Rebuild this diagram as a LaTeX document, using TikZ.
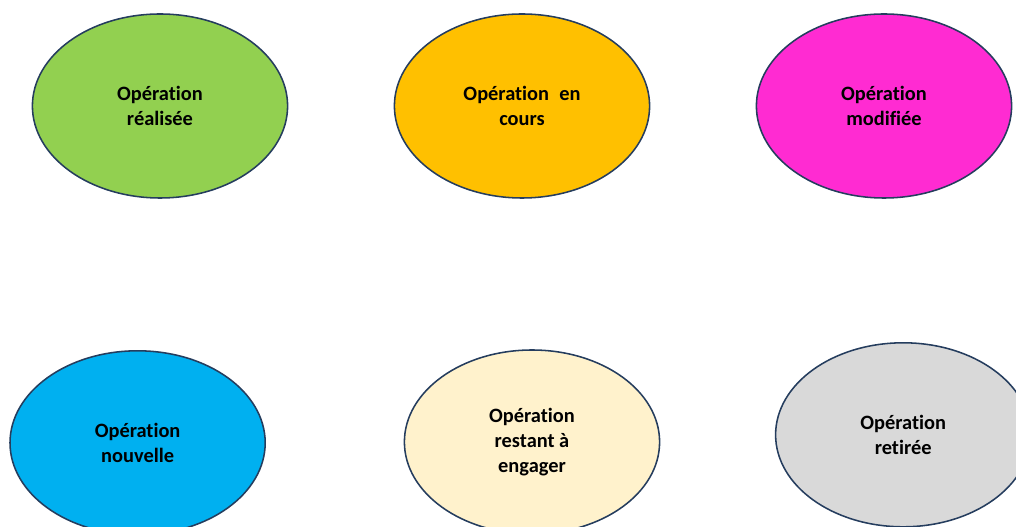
\documentclass[tikz,border=0pt]{standalone}
\usepackage{fontspec}
\setsansfont{Carlito}[Ligatures=NoCommon]
\usetikzlibrary{shapes.geometric}
\definecolor{cLine}{HTML}{253D5E}
\definecolor{cDone}{HTML}{92D050}
\definecolor{cOngoing}{HTML}{FFC000}
\definecolor{cChanged}{HTML}{FF2BD2}
\definecolor{cNew}{HTML}{00B0F0}
\definecolor{cPending}{HTML}{FFF2CC}
\definecolor{cRemoved}{HTML}{D9D9D9}

\begin{document}
\begin{tikzpicture}[
    op/.style={ellipse, draw=cLine, line width=1.1pt, minimum width=6.38cm, minimum height=4.6cm,
        align=center, inner sep=0pt, font=\sffamily\bfseries\fontsize{14.5}{18}\selectfont},
    done/.style={op, fill=cDone},
    ongoing/.style={op, fill=cOngoing},
    changed/.style={op, fill=cChanged},
    fresh/.style={op, fill=cNew},
    pending/.style={op, fill=cPending},
    removed/.style={op, fill=cRemoved}
]
\useasboundingbox (0,0) rectangle (25.4,-13.175);
\def\ytop{-2.65}

% top row
\node[done] (realisee) at (4.0, \ytop) {Opération\\réalisée};
\node[ongoing] (encours) at (13.05, \ytop) {Opération\enspace en\\cours};
\node[changed] (modifiee) at (22.1, \ytop) {Opération\\modifiée};

% bottom row
\node[fresh] (nouvelle) at (3.44, -11.07) {Opération\\nouvelle};
\node[pending] (restant) at (13.3, -11.05) {Opération\\restant à\\engager};
\node[removed] (retiree) at (22.58, -10.87) {Opération\\retirée};

\end{tikzpicture}
\end{document}
